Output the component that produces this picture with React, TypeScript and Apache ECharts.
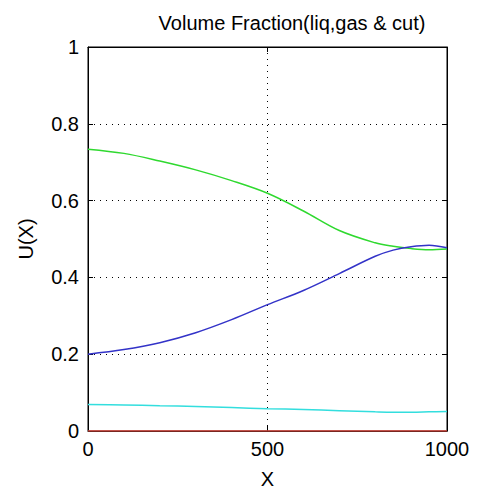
import React, { useEffect, useRef } from "react";
import * as echarts from "echarts";

const xs = [0, 100, 200, 300, 400, 500, 600, 700, 800, 850, 900, 950, 1000];
const liquid = [0.734, 0.723, 0.703, 0.68, 0.652, 0.619, 0.573, 0.522, 0.49, 0.481, 0.475, 0.472, 0.474];
const gas = [0.2, 0.212, 0.23, 0.256, 0.29, 0.329, 0.366, 0.41, 0.455, 0.471, 0.48, 0.484, 0.477];
const cut = [0.069, 0.068, 0.066, 0.064, 0.061, 0.058, 0.056, 0.053, 0.05, 0.049, 0.049, 0.05, 0.051];
const zero = [0, 0, 0, 0, 0, 0, 0, 0, 0, 0, 0, 0, 0];
const xTicks = [0, 500, 1000];
const yTicks = [0, 0.2, 0.4, 0.6, 0.8, 1];

const pair = (ys: number[]) => xs.map((x, i) => [x, ys[i]]);

export default function App() {
  const ref = useRef<HTMLDivElement>(null);
  useEffect(() => {
    if (!ref.current) return;
    const chart = echarts.init(ref.current, null, { renderer: "svg" });
    const font = "Liberation Sans, Arial, sans-serif";
    const lineSeries = (name: string, ys: number[], color: string, axis = 0) => ({
      name,
      type: "line",
      data: pair(ys),
      xAxisIndex: axis,
      yAxisIndex: axis,
      smooth: 0.35,
      showSymbol: false,
      lineStyle: { color, width: 1.5 },
      z: 3,
    });
    const dotted = {
      show: true,
      showMinLine: false,
      showMaxLine: false,
      lineStyle: { color: "#000", type: [1, 5], width: 1 },
    };
    const axisLine = { show: true, onZero: false, lineStyle: { color: "#000", width: 1 } };
    const axisTick = { show: true, inside: true, length: 5, lineStyle: { color: "#000" } };
    const xBase = { type: "value", min: 0, max: 1000, interval: 500, axisLine, axisTick };
    const yBase = { type: "value", min: 0, max: 1, interval: 0.2, axisLine, axisTick };
    chart.setOption({
      animation: false,
      backgroundColor: "#fff",
      title: {
        text: "Volume Fraction(liq,gas & cut)",
        left: 287,
        textAlign: "center",
        top: 8,
        textStyle: { fontFamily: font, fontSize: 20, fontWeight: "normal", color: "#000" },
      },
      grid: {
        left: 88,
        right: 34,
        top: 47,
        bottom: 60,
        show: true,
        borderColor: "#000",
        borderWidth: 1,
        backgroundColor: "transparent",
      },
      xAxis: [
        {
          ...xBase,
          position: "bottom",
          name: "X",
          nameLocation: "middle",
          nameGap: 38,
          nameTextStyle: { fontFamily: font, fontSize: 20, color: "#000" },
          axisLabel: {
            fontFamily: font,
            fontSize: 20,
            color: "#000",
            margin: 8,
            formatter: (v: number) => (xTicks.includes(v) ? String(v) : ""),
          },
          splitLine: dotted,
        },
        { ...xBase, position: "top", axisLabel: { show: false }, splitLine: { show: false } },
      ],
      yAxis: [
        {
          ...yBase,
          position: "left",
          name: "U(X)",
          nameLocation: "middle",
          nameGap: 52,
          nameTextStyle: { fontFamily: font, fontSize: 20, color: "#000" },
          axisLabel: {
            fontFamily: font,
            fontSize: 20,
            color: "#000",
            margin: 9,
            formatter: (v: number) => {
              const t = yTicks.find((k) => Math.abs(k - v) < 1e-9);
              return t === undefined ? "" : String(Math.round(t * 10) / 10);
            },
          },
          splitLine: dotted,
        },
        { ...yBase, position: "right", axisLabel: { show: false }, splitLine: { show: false } },
      ],
      series: [
        lineSeries("liquid", liquid, "#2fd92f"),
        lineSeries("gas", gas, "#3333c8"),
        lineSeries("cut", cut, "#33dede"),
        lineSeries("zero", zero, "#d9443a", 1),
      ],
    });
    return () => chart.dispose();
  }, []);
  return (
    <div
      ref={ref}
      style={{ position: "fixed", left: 0, top: 0, width: 481, height: 494, background: "#fff" }}
    />
  );
}
